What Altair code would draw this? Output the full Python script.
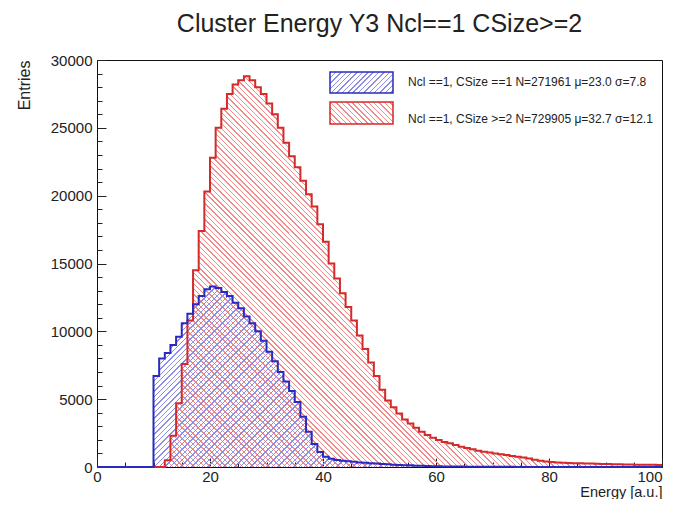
import math
import altair as alt
import pandas as pd

# ---------------- data ----------------
TITLE = "Cluster Energy Y3 Ncl==1 CSize>=2"
X_TITLE = "Energy [a.u.]"
Y_TITLE = "Entries"

bin_edges = list(range(0, 101))  # 100 bins of width 1, 0..100

blue_counts = [
    0, 0, 0, 0, 0, 0, 0, 0, 0, 0,
    6700, 8000, 8400, 9000, 9600, 10600, 11300, 12000, 12600, 13100,
    13300, 13200, 12900, 12600, 12100, 11700, 11100, 10600, 10000, 9300,
    8500, 7800, 7000, 6300, 5600, 4800, 3700, 2600, 1700, 1100,
    750, 600, 520, 460, 420, 380, 340, 310, 280, 250,
    220, 200, 175, 155, 135, 120, 100, 85, 70, 60,
    50, 45, 40, 35, 30, 25, 22, 20, 18, 15,
    13, 12, 11, 10, 9, 8, 8, 7, 7, 6,
    6, 5, 5, 5, 4, 4, 4, 3, 3, 3,
    3, 3, 2, 2, 2, 2, 2, 1, 1, 1,
]

red_counts = [
    0, 0, 0, 0, 0, 0, 0, 0, 0, 0,
    0, 0, 500, 2300, 4700, 7600, 10800, 14500, 17400, 20300,
    22800, 25000, 26400, 27500, 28200, 28500, 28800, 28500, 28000, 27500,
    26800, 26000, 25000, 23900, 22900, 22100, 21100, 20100, 19200, 17900,
    16600, 15000, 13900, 12800, 11800, 10800, 9700, 8700, 7700, 6700,
    5700, 4900, 4400, 3950, 3500, 3200, 2900, 2600, 2350, 2150,
    1990, 1850, 1750, 1620, 1500, 1400, 1300, 1200, 1130, 1060,
    1000, 940, 880, 820, 760, 700, 620, 540, 460, 400,
    360, 330, 310, 290, 280, 270, 260, 250, 240, 230,
    220, 210, 200, 190, 180, 175, 170, 165, 160, 150,
]

legend_names = ["Ncl ==1, CSize ==1", "Ncl ==1, CSize >=2"]
legend_N = [271961, 729905]
legend_mu = [23.0, 32.7]
legend_sigma = [7.8, 12.1]

# ---------------- styling ----------------
W, H = 565, 407
Y_MAX = 30000
FONT = "Liberation Sans"
TXT = "#222222"
RED = "#d42a2a"
BLUE = "#2a2ac0"
RED_HATCH = "240,140,140"
BLUE_HATCH = "140,140,232"


def hatch(rgb, direction, w, h, spacing=3.8, duty=0.27):
    """Striped linear gradient imitating a ROOT hatch fill (45 deg lines)."""
    r = h / w
    k = (1 + r) / (1 + r * r)
    if direction == "/":
        x1, y1, x2, y2 = 0.0, 0.0, k, k * r
    else:
        x1, y1, x2, y2 = 0.0, 1.0, k, 1.0 - k * r
    dt = spacing * math.sqrt(2) / ((1 + r) * w)
    on, off = f"rgba({rgb},1)", f"rgba({rgb},0)"
    stops = []
    t = 0.0
    while t < 1.0:
        b = min(t + duty * dt, 1.0)
        c = min(t + dt, 1.0)
        stops += [
            alt.GradientStop(color=on, offset=round(t, 5)),
            alt.GradientStop(color=on, offset=round(b, 5)),
            alt.GradientStop(color=off, offset=round(b, 5)),
            alt.GradientStop(color=off, offset=round(c, 5)),
        ]
        t += dt
    return alt.LinearGradient(gradient="linear", stops=stops,
                              x1=round(x1, 4), y1=round(y1, 4),
                              x2=round(x2, 4), y2=round(y2, 4))


def hist_df(counts):
    return pd.DataFrame({"E": bin_edges, "N": counts + [counts[-1]]})


red_df = hist_df(red_counts)
blue_df = hist_df(blue_counts)

x_scale = alt.Scale(domain=[0, 100], nice=False, zero=False)
y_scale = alt.Scale(domain=[0, Y_MAX], nice=False)

common_axis = dict(domain=False, grid=False, tickColor=TXT, tickWidth=1)

major_x = alt.Axis(values=[0, 20, 40, 60, 80, 100], format="d", orient="bottom",
                   tickSize=9, offset=-9, labelFontSize=15, labelPadding=2,
                   labelColor=TXT, labelFont=FONT, labelFlush=False, labelOverlap=False,
                   labelAlign={"condition": {"test": "datum.value >= 100", "value": "right"},
                               "value": "center"},
                   title=X_TITLE, titleAnchor="end", titleFontSize=14.5,
                   titleFontWeight="normal", titleColor=TXT, titleFont=FONT,
                   titleBaseline="alphabetic", titleY=38.5, **common_axis)
minor_x = alt.Axis(values=list(range(0, 101, 5)), orient="bottom", tickSize=5,
                   offset=-5, labels=False, title=None, **common_axis)
major_y = alt.Axis(values=list(range(0, Y_MAX + 1, 5000)), format="d", orient="left",
                   tickSize=9, offset=-9, labelFontSize=15, labelPadding=5,
                   labelColor=TXT, labelFont=FONT, labelOverlap=False,
                   title=Y_TITLE, titleAnchor="end", titleFontSize=16,
                   titleFontWeight="normal", titleColor=TXT, titleFont=FONT,
                   titlePadding=18, **common_axis)
minor_y = alt.Axis(values=list(range(0, Y_MAX + 1, 1000)), orient="left", tickSize=5,
                   offset=-5, labels=False, title=None, **common_axis)

red_h = max(red_counts) * H / Y_MAX
blue_h = max(blue_counts) * H / Y_MAX

red_area = alt.Chart(red_df).mark_area(
    interpolate="step-after", fill=hatch(RED_HATCH, "\\", W, red_h)
).encode(
    x=alt.X("E:Q", scale=x_scale, axis=major_x),
    y=alt.Y("N:Q", scale=y_scale, axis=major_y),
)

blue_area = alt.Chart(blue_df).mark_area(
    interpolate="step-after", fill=hatch(BLUE_HATCH, "/", W, blue_h)
).encode(
    x=alt.X("E:Q", scale=x_scale, axis=None),
    y=alt.Y("N:Q", scale=y_scale, axis=None),
)

red_line = alt.Chart(red_df).mark_line(
    interpolate="step-after", color=RED, strokeWidth=2
).encode(
    x=alt.X("E:Q", scale=x_scale, axis=minor_x),
    y=alt.Y("N:Q", scale=y_scale, axis=minor_y),
)

blue_line = alt.Chart(blue_df).mark_line(
    interpolate="step-after", color=BLUE, strokeWidth=2
).encode(
    x=alt.X("E:Q", scale=x_scale, axis=None),
    y=alt.Y("N:Q", scale=y_scale, axis=None),
)

# ---------------- legend ----------------
one = pd.DataFrame({"k": [0]})
SW_X0, SW_X1, TXT_X = 233, 296, 311
legend_rows = [
    dict(y0=12, y1=33, ty=22, color=BLUE, rgb=BLUE_HATCH, dirn="/"),
    dict(y0=42, y1=64, ty=59, color=RED, rgb=RED_HATCH, dirn="\\"),
]
legend_layers = []
for i, row in enumerate(legend_rows):
    label = (f"{legend_names[i]} N={legend_N[i]} \u03bc={legend_mu[i]:.1f} "
             f"\u03c3={legend_sigma[i]:.1f}")
    sw = alt.Chart(one).mark_rect(
        fill=hatch(row["rgb"], row["dirn"], SW_X1 - SW_X0, row["y1"] - row["y0"]),
        stroke=row["color"], strokeWidth=1.5,
    ).encode(x=alt.value(SW_X0), x2=alt.value(SW_X1),
             y=alt.value(row["y0"]), y2=alt.value(row["y1"]))
    tx = alt.Chart(one).mark_text(
        align="left", baseline="middle", font=FONT, fontSize=12, color=TXT
    ).encode(x=alt.value(TXT_X), y=alt.value(row["ty"]), text=alt.value(label))
    legend_layers += [sw, tx]

chart = alt.layer(
    red_area, blue_area, red_line, blue_line, *legend_layers
).resolve_axis(
    x="independent", y="independent"
).properties(
    width=W, height=H,
    autosize=alt.AutoSizeParams(type="none"),
    padding={"left": 89, "top": 52, "right": 6, "bottom": 32},
    title=alt.TitleParams(TITLE, fontSize=25, font=FONT, fontWeight="normal",
                          color=TXT, anchor="middle", baseline="alphabetic",
                          offset=20, dy=24),
).configure_view(
    stroke="#111111", strokeWidth=1
)

chart.save("out.html", embed_options={"renderer": "svg", "actions": False})
